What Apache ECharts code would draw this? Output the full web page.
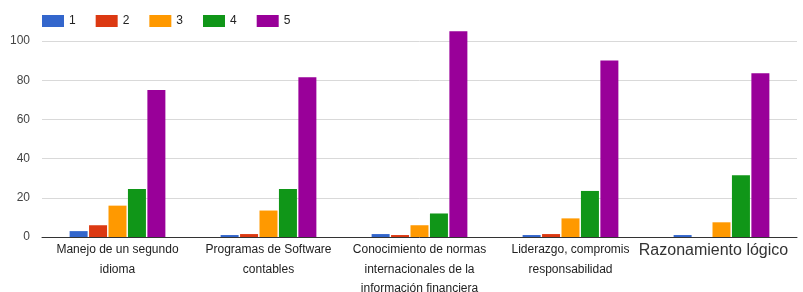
<!DOCTYPE html>
<html>
<head>
<meta charset="utf-8">
<script src="https://cdn.jsdelivr.net/npm/echarts@6/dist/echarts.min.js"></script>
<style>
html,body{margin:0;padding:0;background:#fff;overflow:hidden;}
#chart{width:803px;height:292px;}
</style>
</head>
<body>
<div id="chart"></div>
<script>
const categories = [
  "Manejo de un segundo\nidioma",
  "Programas de Software\ncontables",
  "Conocimiento de normas\ninternacionales de la\ninformación financiera",
  "Liderazgo, compromis\nresponsabilidad",
  "Razonamiento lógico"
];
const seriesNames = ["1", "2", "3", "4", "5"];
const s1 = [3, 1, 1.5, 1, 1];
const s2 = [6, 1.5, 1, 1.5, 0];
const s3 = [16, 13.5, 6, 9.5, 7.5];
const s4 = [24.5, 24.5, 12, 23.5, 31.5];
const s5 = [75, 81.5, 105, 90, 83.5];
const yTicks = [0, 20, 40, 60, 80, 100];
const colors = ["#3366cc", "#dc3912", "#ff9900", "#109618", "#990099"];

const allData = [s1, s2, s3, s4, s5];
const chart = echarts.init(document.getElementById('chart'), null, {renderer: 'canvas', width: 803, height: 292});
const font = '"Liberation Sans", Arial, sans-serif';
chart.setOption({
  animation: false,
  color: colors,
  textStyle: {fontFamily: font},
  legend: {
    left: 42, top: 15, padding: 0,
    icon: 'rect', itemWidth: 22, itemHeight: 12, itemGap: 20,
    textStyle: {fontFamily: font, fontSize: 12, color: '#222'},
    data: seriesNames
  },
  grid: {left: 42, right: 6, top: 41, bottom: 55, containLabel: false, outerBoundsMode: 'none'},
  xAxis: {
    type: 'category',
    data: categories,
    axisTick: {show: false},
    axisLine: {lineStyle: {color: '#333', width: 1}},
    axisLabel: {
      interval: 0, margin: 3,
      fontFamily: font, fontSize: 12, color: '#222', lineHeight: 19.5,
      formatter: function (v) {
        return v === "Razonamiento lógico" ? '{big|' + v + '}' : v;
      },
      rich: {big: {fontSize: 16, fontFamily: font, color: '#333', lineHeight: 22, padding: [0, 16, 0, 0]}}
    }
  },
  yAxis: {
    type: 'value',
    min: yTicks[0], max: yTicks[yTicks.length - 1], interval: 20,
    axisLine: {show: false},
    axisTick: {show: false},
    axisLabel: {margin: 12, fontFamily: font, fontSize: 12, color: '#444'},
    splitLine: {lineStyle: {color: '#d9d9d9', width: 1}}
  },
  series: seriesNames.map((n, i) => ({
    name: n,
    type: 'bar',
    data: allData[i],
    clip: false,
    barWidth: 18,
    barGap: '8%',
    itemStyle: {color: colors[i]}
  }))
});
</script>
</body>
</html>
